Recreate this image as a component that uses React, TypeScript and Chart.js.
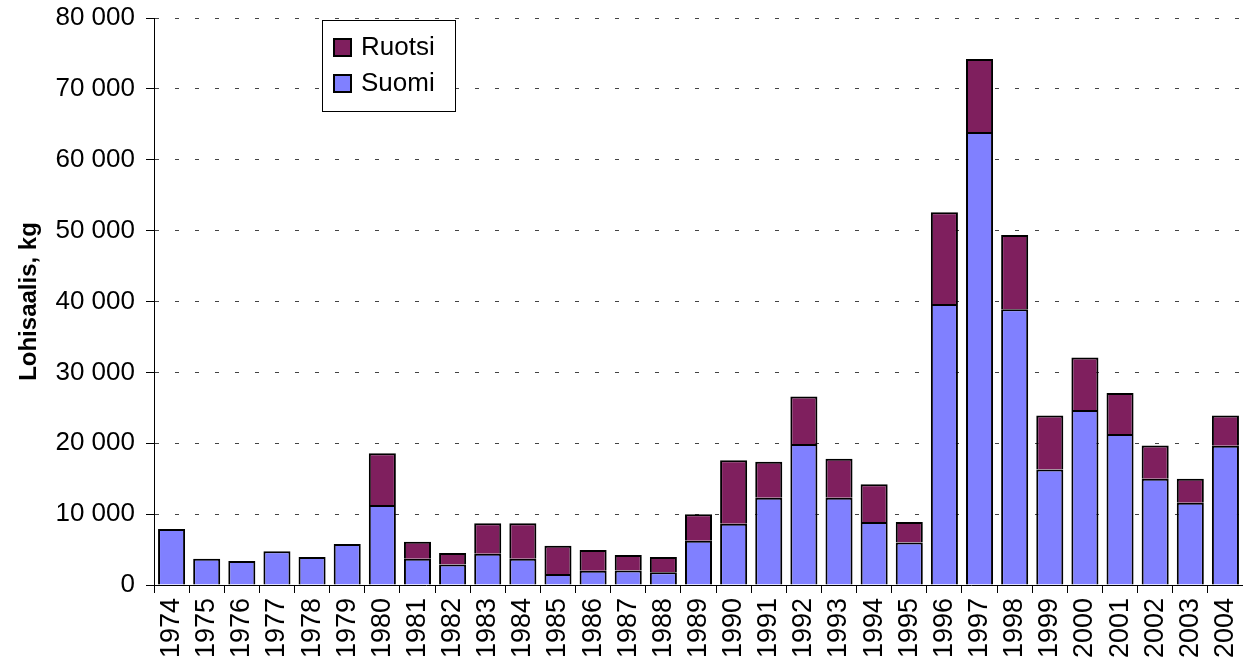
import React, { useEffect, useRef } from "react";
import { Chart, registerables } from "chart.js";

Chart.register(...registerables);

const years = [
  "1974", "1975", "1976", "1977", "1978", "1979", "1980", "1981", "1982", "1983",
  "1984", "1985", "1986", "1987", "1988", "1989", "1990", "1991", "1992", "1993",
  "1994", "1995", "1996", "1997", "1998", "1999", "2000", "2001", "2002", "2003", "2004",
];

const suomi = [
  7900, 3700, 3400, 4750, 3950, 5800, 11300, 3700, 2900, 4400,
  3700, 1550, 2000, 2050, 1800, 6250, 8650, 12300, 19900, 12300,
  8900, 6000, 39650, 63900, 38900, 16300, 24700, 21300, 15000, 11600, 19650,
];

const ruotsi: (number | null)[] = [
  null, null, null, null, null, null, 7300, 2400, 1600, 4300,
  5000, 4000, 2950, 2200, 2150, 3750, 8950, 5100, 6700, 5500,
  5300, 2900, 12950, 10300, 10500, 7600, 7400, 5800, 4700, 3400, 4250,
];

const yTicks = [0, 10000, 20000, 30000, 40000, 50000, 60000, 70000, 80000];

const SUOMI_COLOR = "#8080FF";
const RUOTSI_COLOR = "#7F1F5E";
const FONT = "'Liberation Sans', Arial, sans-serif";

const fmt = (v: number) => String(v).replace(/\B(?=(\d{3})+(?!\d))/g, " ");

const legendPlugin = {
  id: "insideLegend",
  afterDraw(chart: any) {
    const ctx = chart.ctx as CanvasRenderingContext2D;
    const ds = chart.data.datasets.slice().reverse();
    ctx.save();
    const bx = 322.5, by = 20.5, bw = 133, bh = 91;
    ctx.fillStyle = "#fff";
    ctx.fillRect(bx, by, bw, bh);
    ctx.strokeStyle = "#000";
    ctx.lineWidth = 1;
    ctx.strokeRect(bx, by, bw, bh);
    ctx.font = `26px ${FONT}`;
    ctx.textBaseline = "middle";
    ctx.textAlign = "left";
    ds.forEach((d: any, i: number) => {
      const cy = 47 + i * 36;
      ctx.fillStyle = "#000";
      ctx.fillRect(333, cy - 9, 19, 19);
      ctx.fillStyle = d.backgroundColor;
      ctx.fillRect(335, cy - 7, 15, 15);
      ctx.fillStyle = "#000";
      ctx.fillText(d.label, 361, cy + 1);
    });
    ctx.restore();
  },
};

export default function App() {
  const ref = useRef<HTMLCanvasElement | null>(null);

  useEffect(() => {
    if (!ref.current) return;
    const chart = new Chart(ref.current, {
      type: "bar",
      data: {
        labels: years,
        datasets: [
          {
            label: "Suomi",
            data: suomi,
            backgroundColor: SUOMI_COLOR,
            borderColor: "#000",
            borderWidth: 2,
            barPercentage: 0.77,
            categoryPercentage: 1,
          },
          {
            label: "Ruotsi",
            data: ruotsi,
            backgroundColor: RUOTSI_COLOR,
            borderColor: "#000",
            borderWidth: 2,
            barPercentage: 0.77,
            categoryPercentage: 1,
          },
        ],
      },
      options: {
        responsive: false,
        animation: false,
        devicePixelRatio: 1,
        layout: { padding: { top: 18, right: 0, bottom: 0, left: 0 } },
        plugins: {
          legend: { display: false },
          tooltip: { enabled: false },
        },
        scales: {
          x: {
            stacked: true,
            offset: true,
            grid: {
              display: true,
              drawOnChartArea: false,
              drawTicks: true,
              tickLength: 8,
              tickColor: "#000",
              offset: true,
            },
            border: { display: true, color: "#000", width: 1 },
            ticks: {
              autoSkip: false,
              minRotation: 90,
              maxRotation: 90,
              padding: 5,
              color: "#000",
              font: { family: FONT, size: 27 },
            },
            afterFit(scale: any) {
              scale.height = 82;
              scale.paddingLeft = 0;
              scale.paddingRight = 0;
            },
          },
          y: {
            stacked: true,
            min: 0,
            max: 80000,
            afterBuildTicks(scale: any) {
              scale.ticks = yTicks.map((v) => ({ value: v }));
            },
            grid: {
              color: "#444",
              lineWidth: 1,
              drawTicks: true,
              tickLength: 8,
              tickColor: "#000",
              tickBorderDash: [],
            },
            border: { display: true, color: "#000", width: 1, dash: [4, 16] },
            ticks: {
              padding: 11,
              color: "#000",
              font: { family: FONT, size: 26 },
              callback: (v: any) => fmt(Number(v)),
            },
            title: {
              display: true,
              text: "Lohisaalis, kg",
              color: "#000",
              font: { family: FONT, size: 24, weight: "bold" },
              padding: { top: 15, bottom: 0 },
            },
            afterFit(scale: any) {
              scale.width = 154;
              scale.paddingTop = 0;
              scale.paddingBottom = 0;
            },
          },
        },
      },
      plugins: [legendPlugin],
    } as any);
    return () => chart.destroy();
  }, []);

  return (
    <div style={{ position: "fixed", left: 0, top: 0, width: 1243, height: 667, background: "#fff" }}>
      <canvas ref={ref} width={1243} height={667} style={{ display: "block" }} />
    </div>
  );
}
